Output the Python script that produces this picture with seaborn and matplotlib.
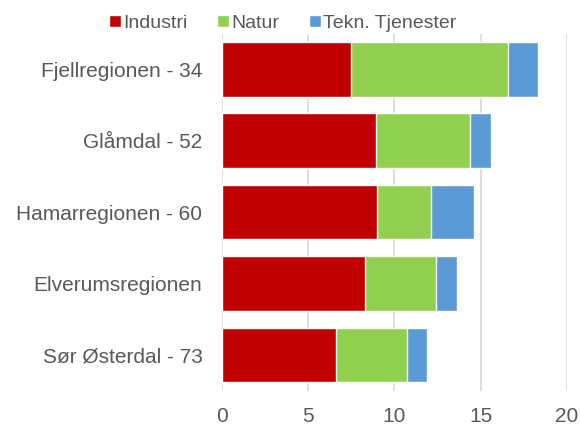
import numpy as np
import pandas as pd
import seaborn as sns
import matplotlib.pyplot as plt
from matplotlib.patches import Patch

regions = ["Fjellregionen - 34", "Glåmdal - 52", "Hamarregionen - 60",
           "Elverumsregionen", "Sør Østerdal - 73"]
industri = [7.5, 8.9, 9.0, 8.3, 6.6]
natur = [9.1, 5.5, 3.1, 4.1, 4.1]
tekn = [1.7, 1.2, 2.5, 1.2, 1.2]
series = ["Industri", "Natur", "Tekn. Tjenester"]
colors = ["#C00000", "#92D050", "#5B9BD5"]

sns.set_style("white")
plt.rcParams["font.family"] = ["Liberation Sans", "DejaVu Sans"]

df = pd.DataFrame({"region": regions, "Industri": industri,
                   "Natur": natur, "Tekn. Tjenester": tekn})
df["c1"] = df["Industri"]
df["c2"] = df["c1"] + df["Natur"]
df["c3"] = df["c2"] + df["Tekn. Tjenester"]

fig, ax = plt.subplots(figsize=(5.81, 4.25), dpi=100)
fig.subplots_adjust(left=0.382, right=0.976, top=0.921, bottom=0.081)

for col, c in zip(["c3", "c2", "c1"], colors[::-1]):
    sns.barplot(data=df, x=col, y="region", color=c, width=0.765,
                saturation=1, ax=ax, zorder=3)

ax.set_xlim(0, 20)
ax.set_xticks([0, 5, 10, 15, 20])
ax.grid(axis="x", color="#D9D9D9", linewidth=1.2, zorder=0)
ax.set_axisbelow(True)
for s in ax.spines.values():
    s.set_visible(False)
ax.set_xlabel("")
ax.set_ylabel("")
ax.tick_params(axis="both", length=0, labelsize=15, colors="#595959")
ax.tick_params(axis="x", pad=12)
ax.tick_params(axis="y", pad=14)

handles = [Patch(facecolor=c, label=s) for s, c in zip(series, colors)]
fig.legend(handles=handles, loc="center", bbox_to_anchor=(0.487, 0.945),
           ncol=3, frameon=False, fontsize=14, handlelength=0.6,
           handleheight=0.6, handletextpad=0.15, columnspacing=1.5,
           labelcolor="#595959")

fig.savefig("out.png", dpi=100)
